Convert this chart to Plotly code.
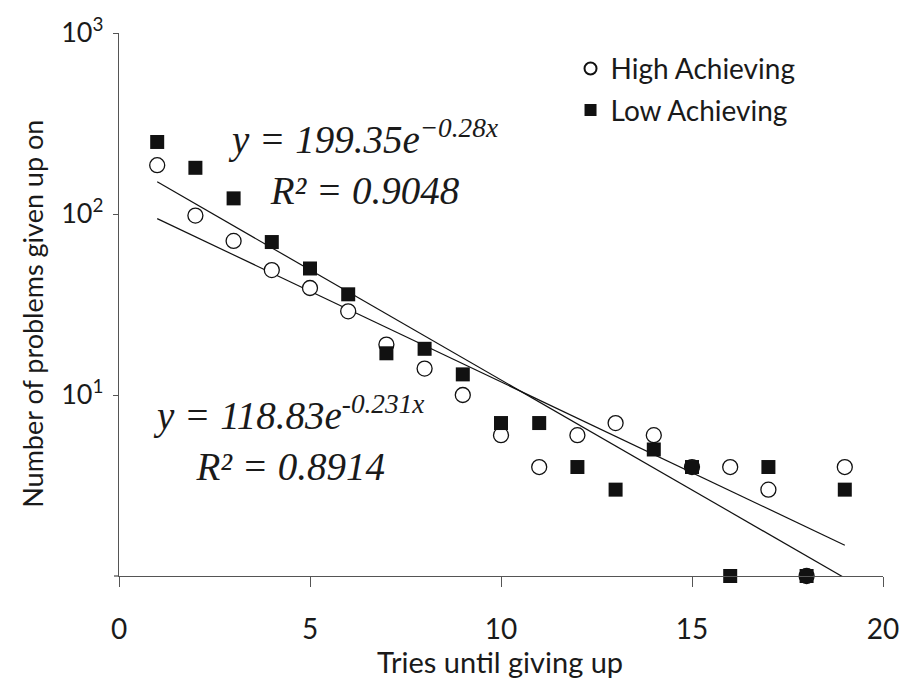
import plotly.graph_objects as go

# ---- data ----
tries = list(range(1, 20))
high_achieving = [186, 98, 71, 49, 39, 29, 19, 14, 10, 6, 4, 6, 7, 6, 4, 4, 3, 1, 4]
low_achieving = [250, 180, 122, 70, 50, 36, 17, 18, 13, 7, 7, 4, 3, 5, 4, 1, 4, 1, 3]

# exponential trend lines (straight on log axis) - end points
trend_x = [1, 19]
high_trend = [94.3, 1.48]    # y = 118.83e^-0.231x
low_trend = [150.6, 0.975]   # y = 199.35e^-0.28x

x_ticks = [0, 5, 10, 15, 20]
y_tickvals = [10, 100, 1000]
y_ticktext = ["10<sup>1</sup>", "10<sup>2</sup>", "10<sup>3</sup>"]

eq_low = "<i>y = 199.35e<sup>−0.28x</sup></i><br><i>R² = 0.9048</i>"
eq_high = "<i>y = 118.83e<sup>-0.231x</sup></i><br><i>R² = 0.8914</i>"

TXT = "#1a1a1a"
SANS = "Lato"
SERIF = "Liberation Serif"

fig = go.Figure()

fig.add_trace(go.Scatter(x=trend_x, y=high_trend, mode="lines",
                         line=dict(color="#111", width=1.2), showlegend=False,
                         hoverinfo="skip"))
fig.add_trace(go.Scatter(x=trend_x, y=low_trend, mode="lines",
                         line=dict(color="#111", width=1.2), showlegend=False,
                         hoverinfo="skip"))

fig.add_trace(go.Scatter(x=tries, y=high_achieving, mode="markers",
                         name="High Achieving", legendgroup="h",
                         marker=dict(symbol="circle", size=15, color="white",
                                     line=dict(color="#111", width=1.3)),
                         cliponaxis=False))
fig.add_trace(go.Scatter(x=tries, y=low_achieving, mode="markers",
                         name="Low Achieving", legendgroup="l",
                         marker=dict(symbol="square", size=14, color="#111",
                                     line=dict(color="#111", width=0)),
                         cliponaxis=False))

fig.update_layout(
    width=918, height=678,
    margin=dict(l=118.5, r=35.3, t=26.7, b=102.3),
    paper_bgcolor="white", plot_bgcolor="white",
    font=dict(family=SANS, color=TXT),
    showlegend=True,
    legend=dict(x=0.591, y=0.980, xanchor="left", yanchor="top",
                bgcolor="rgba(0,0,0,0)", font=dict(size=28, family=SANS, color=TXT),
                itemsizing="constant", traceorder="grouped", tracegroupgap=2),
    xaxis=dict(range=[0, 20], tickvals=x_ticks, ticktext=[str(v) for v in x_ticks],
               showgrid=False, zeroline=False, showline=True, linecolor="#555",
               linewidth=1.3, ticks="outside", ticklen=10, tickcolor="#555",
               tickwidth=1.3, tickfont=dict(size=28, family=SANS, color=TXT),
               ticklabelstandoff=18),
    yaxis=dict(type="log", range=[0, 3], tickvals=y_tickvals, ticktext=y_ticktext,
               showgrid=False, zeroline=False, showline=True, linecolor="#555",
               linewidth=1.3, ticks="outside", ticklen=5, tickcolor="#555",
               tickwidth=1.3, tickfont=dict(size=27, family=SANS, color=TXT),
               ticklabelstandoff=4),
    shapes=[
        # tick mark at the 10^0 level (bottom of the log axis)
        dict(type="line", xref="paper", yref="paper", xsizemode="pixel", xanchor=0,
             x0=-5, x1=0, y0=0, y1=0, line=dict(color="#555", width=1.3)),
    ],
    annotations=[
        dict(text=eq_low, xref="paper", yref="paper", x=0.320, y=0.762,
             xanchor="center", yanchor="middle", align="center", showarrow=False,
             font=dict(family=SERIF, size=39, color=TXT)),
        dict(text=eq_high, xref="paper", yref="paper", x=0.222, y=0.253,
             xanchor="center", yanchor="middle", align="center", showarrow=False,
             font=dict(family=SERIF, size=39, color=TXT)),
        dict(text="Tries until giving up", xref="paper", yref="paper",
             x=0.499, y=-0.157, xanchor="center", yanchor="middle",
             showarrow=False, font=dict(family=SANS, size=29, color=TXT)),
        dict(text="Number of problems given up on", xref="paper", yref="paper",
             x=-0.1125, y=0.483, xanchor="center", yanchor="middle", textangle=-90,
             showarrow=False, font=dict(family=SANS, size=27, color=TXT)),
    ],
)

fig.write_html("out.html")
